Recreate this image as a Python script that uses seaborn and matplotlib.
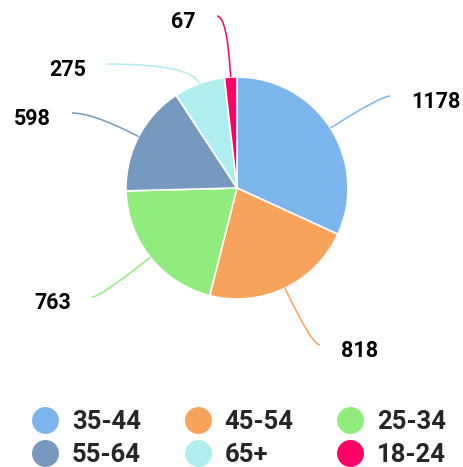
import numpy as np
import matplotlib
matplotlib.use('Agg')
import matplotlib.pyplot as plt
import seaborn as sns
from matplotlib.path import Path
from matplotlib.patches import PathPatch
from matplotlib.lines import Line2D

# ---- data ----
categories = ['35-44', '45-54', '25-34', '55-64', '65+', '18-24']
values = [1178, 818, 763, 598, 275, 67]
colors = ['#7cb5ec', '#f7a35c', '#90ed7d', '#7798bf', '#aeeeee', '#ff0066']

# ---- layout (pixels, origin top-left) ----
W, H = 463, 467
CX, CY, R = 237, 188, 111
label_anchor = [(390, 96), (320, 345), (92, 297), (72, 113), (107, 64), (217, 16)]

sns.set_theme(style='white')
plt.rcParams['font.family'] = ['Roboto', 'DejaVu Sans']

fig = plt.figure(figsize=(W / 100, H / 100), dpi=100)
ax = fig.add_axes([0, 0, 1, 1])


def py(y):
    return H - y


wedges, _ = ax.pie(values, colors=colors, startangle=90, counterclock=False,
                   center=(CX, py(CY)), radius=R,
                   wedgeprops=dict(edgecolor='white', linewidth=1.2))
ax.set_xlim(0, W)
ax.set_ylim(0, H)
ax.set_aspect('equal')
ax.axis('off')

for w, v, c, (ex, ey) in zip(wedges, values, colors, label_anchor):
    mid = np.deg2rad((w.theta1 + w.theta2) / 2)
    x0 = CX + R * np.cos(mid)
    y0 = py(CY) + R * np.sin(mid)
    dx, dy = np.cos(mid), np.sin(mid)
    ey_d = py(ey)
    t = (ey_d - y0) / dy
    x1 = x0 + t * dx
    path = Path([(x0, y0), (x1, ey_d), (ex, ey_d)],
                [Path.MOVETO, Path.CURVE3, Path.CURVE3])
    ax.add_patch(PathPatch(path, fill=False, edgecolor=c, lw=1.1))
    side = 1 if ex > CX else -1
    ax.text(ex + side * 21, ey_d - 12, str(v),
            ha='left' if side > 0 else 'right', va='baseline',
            fontsize=15.5, fontweight='bold', color='black')

handles = [Line2D([], [], marker='o', ls='', markersize=19.4,
                  markerfacecolor=c, markeredgewidth=0) for c in colors]
order = [0, 3, 1, 4, 2, 5]
ax.legend([handles[i] for i in order], [categories[i] for i in order],
          ncol=3, loc='upper left',
          bbox_to_anchor=(32 / W, 1 - 410 / H),
          frameon=False, borderpad=0, borderaxespad=0,
          handlelength=1.0, handletextpad=0.55, columnspacing=1.71,
          labelspacing=0.36,
          prop=dict(family='Roboto', weight='bold', size=18.5))

fig.savefig('out.png', dpi=100)
